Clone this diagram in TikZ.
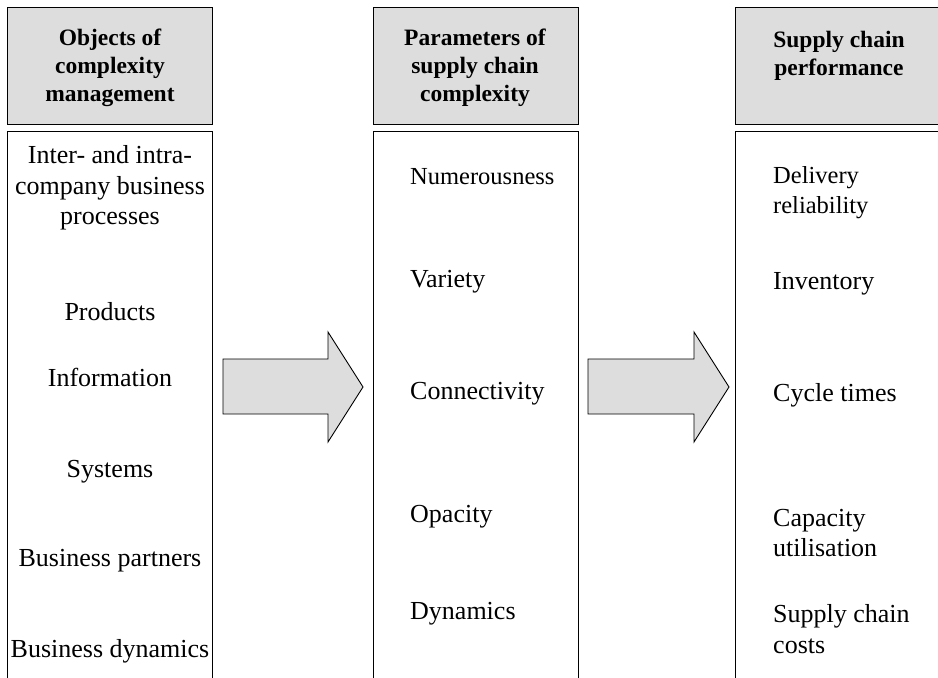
\documentclass[tikz,border=0pt]{standalone}
\usepackage{fontspec}
\setmainfont{Liberation Serif}
\definecolor{hdrgray}{RGB}{221,221,221}
\begin{document}
\begin{tikzpicture}[x=1pt,y=-1pt,
  hdr/.style={draw=black, line width=1pt, fill=hdrgray, minimum width=205pt, minimum height=117pt, anchor=north west, inner sep=0pt},
  body/.style={draw=black, line width=1pt, fill=white, minimum width=205pt, minimum height=580pt, anchor=north west, inner sep=0pt},
  htext/.style={font=\fontsize{23.5}{28}\selectfont\bfseries, align=center, inner sep=0pt, anchor=north},
  item/.style={font=\fontsize{26}{30.5}\selectfont, inner sep=0pt},
  itemsmall/.style={font=\fontsize{24.5}{30}\selectfont, inner sep=0pt},
  blockarrow/.style={draw=black, line width=0.9pt, fill=hdrgray, line join=miter}]
\useasboundingbox (0,0) rectangle (938,678);
\clip (0,0) rectangle (938,678);
% header boxes
\node[hdr] (h1) at (7,7) {};
\node[hdr] (h2) at (373,7) {};
\node[hdr] (h3) at (735,7) {};
% body boxes
\node[body] (b1) at (7,131) {};
\node[body] (b2) at (373,131) {};
\node[body] (b3) at (735,131) {};
% header texts
\node[htext] (t1) at (110,29) {Objects of\\complexity\\management};
\node[htext] (t2) at (475,29) {Parameters of\\supply chain\\complexity};
\node[htext] (t3) at (839,31) {Supply chain\\performance};
% column 1
\node[item, align=center] (o1) at (110,188) {Inter- and intra-\\company business\\processes};
\node[item, anchor=base] (o2) at (110,320) {Products};
\node[item, anchor=base] (o3) at (110,386) {Information};
\node[item, anchor=base] (o4) at (110,477) {Systems};
\node[item, anchor=base] (o5) at (110,566) {Business partners};
\node[item, anchor=base] (o6) at (110,657) {Business dynamics};
% column 2
\node[itemsmall, anchor=base west] (p1) at (410,184) {Numerousness};
\node[item, anchor=base west] (p2) at (410,287) {Variety};
\node[item, anchor=base west] (p3) at (410,399) {Connectivity};
\node[item, anchor=base west] (p4) at (410,522) {Opacity};
\node[item, anchor=base west] (p5) at (410,619) {Dynamics};
% column 3
\node[itemsmall, align=left, anchor=west] (s1) at (773,193) {Delivery\\reliability};
\node[item, anchor=base west] (s2) at (773,289) {Inventory};
\node[item, anchor=base west] (s3) at (773,401) {Cycle times};
\node[item, align=left, anchor=west] (s4) at (773,533) {Capacity\\utilisation};
\node[item, align=left, anchor=west] (s5) at (773,629) {Supply chain\\costs};
% block arrows
\draw[blockarrow] (223,359) -- (328,359) -- (328,332) -- (363,387) -- (328,442) -- (328,414) -- (223,414) -- cycle;
\draw[blockarrow] (588,359) -- (694,359) -- (694,332) -- (729,387) -- (694,442) -- (694,414) -- (588,414) -- cycle;
\end{tikzpicture}
\end{document}
